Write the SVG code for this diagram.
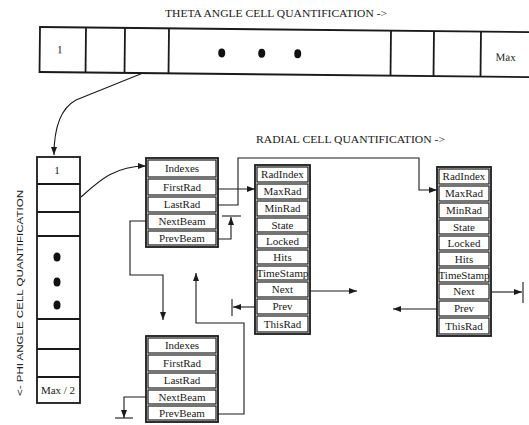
<svg xmlns="http://www.w3.org/2000/svg" width="529" height="425" viewBox="0 0 529 425">
<style>
.box{fill:#fff;stroke:#1a1a1a;stroke-width:1.8}
.cell{fill:#fff;stroke:#1a1a1a;stroke-width:1.2}
.t{font-family:"Liberation Serif","Times New Roman",serif;font-size:11px;fill:#1a1a1a;text-anchor:middle}
.title{font-family:"Liberation Serif","Times New Roman",serif;font-size:10px;fill:#1a1a1a}
.sans{font-family:"Liberation Sans",Arial,sans-serif;font-size:9.5px;fill:#1a1a1a}
.c{fill:none;stroke:#1a1a1a;stroke-width:1.1}
.dot{fill:#111}
</style>
<defs>
<marker id="ah" markerUnits="userSpaceOnUse" markerWidth="8" markerHeight="6" refX="8" refY="3" orient="auto">
<path d="M0,0 L8,3 L0,6 z" fill="#1a1a1a"/>
</marker>
</defs>

<text class="title" x="165" y="17" textLength="222" lengthAdjust="spacingAndGlyphs">THETA ANGLE CELL QUANTIFICATION -&gt;</text>
<text class="title" x="256" y="143" textLength="189" lengthAdjust="spacingAndGlyphs">RADIAL CELL QUANTIFICATION -&gt;</text>
<text class="sans" transform="translate(23,293) rotate(-90)" text-anchor="middle" textLength="206" lengthAdjust="spacingAndGlyphs">&lt;- PHI ANGLE CELL QUANTIFICATION</text>

<g id="theta-array" transform="rotate(0.6 40 27)">
<rect class="box" x="40" y="27" width="500" height="45"/>
<line class="box" x1="86" y1="27" x2="86" y2="72"/>
<line class="box" x1="125" y1="27" x2="125" y2="72"/>
<line class="box" x1="169" y1="27" x2="169" y2="72"/>
<line class="box" x1="391" y1="27" x2="391" y2="72"/>
<line class="box" x1="434" y1="27" x2="434" y2="72"/>
<line class="box" x1="481" y1="27" x2="481" y2="72"/>
<text class="t" x="60" y="53">1</text>
<ellipse class="dot" cx="222" cy="51" rx="3.5" ry="4.5"/>
<ellipse class="dot" cx="262" cy="51" rx="3.5" ry="4.5"/>
<ellipse class="dot" cx="298" cy="51" rx="3.5" ry="4.5"/>
<text class="t" x="506" y="56">Max</text>
</g>

<g id="phi-array">
<rect class="box" x="37" y="157" width="43" height="246"/>
<line class="box" x1="37" y1="184" x2="80" y2="184"/>
<line class="box" x1="37" y1="212" x2="80" y2="212"/>
<line class="box" x1="37" y1="236" x2="80" y2="236"/>
<line class="box" x1="37" y1="319" x2="80" y2="319"/>
<line class="box" x1="37" y1="349" x2="80" y2="349"/>
<line class="box" x1="37" y1="377" x2="80" y2="377"/>
<text class="t" x="57" y="174">1</text>
<ellipse class="dot" cx="57" cy="257" rx="3.5" ry="4.5"/>
<ellipse class="dot" cx="57" cy="282" rx="3.5" ry="4.5"/>
<ellipse class="dot" cx="57" cy="305" rx="3.5" ry="4.5"/>
<text class="t" x="58" y="394">Max / 2</text>
</g>

<g id="beam1">
<rect class="box" x="146" y="158" width="72" height="89"/>
<rect class="cell" x="148" y="160" width="68" height="17"/>
<rect class="cell" x="148" y="179" width="68" height="16"/>
<rect class="cell" x="148" y="197" width="68" height="15"/>
<rect class="cell" x="148" y="214" width="68" height="15"/>
<rect class="cell" x="148" y="231" width="68" height="14"/>
<text class="t" x="182" y="172">Indexes</text>
<text class="t" x="182" y="191">FirstRad</text>
<text class="t" x="182" y="208">LastRad</text>
<text class="t" x="182" y="225">NextBeam</text>
<text class="t" x="182" y="242">PrevBeam</text>
</g>

<g id="beam2">
<rect class="box" x="146" y="336" width="72" height="86"/>
<rect class="cell" x="148" y="338" width="68" height="15"/>
<rect class="cell" x="148" y="355" width="68" height="16"/>
<rect class="cell" x="148" y="373" width="68" height="15"/>
<rect class="cell" x="148" y="390" width="68" height="14"/>
<rect class="cell" x="148" y="406" width="68" height="14"/>
<text class="t" x="182" y="349">Indexes</text>
<text class="t" x="182" y="367">FirstRad</text>
<text class="t" x="182" y="384">LastRad</text>
<text class="t" x="182" y="401">NextBeam</text>
<text class="t" x="182" y="417">PrevBeam</text>
</g>

<g id="rad1">
<rect class="box" x="255" y="165" width="55" height="169"/>
<rect class="cell" x="257" y="167" width="51" height="15"/>
<rect class="cell" x="257" y="184" width="51" height="15"/>
<rect class="cell" x="257" y="201" width="51" height="15"/>
<rect class="cell" x="257" y="218" width="51" height="14"/>
<rect class="cell" x="257" y="234" width="51" height="14"/>
<rect class="cell" x="257" y="250" width="51" height="14"/>
<rect class="cell" x="257" y="266" width="51" height="14"/>
<rect class="cell" x="257" y="282" width="51" height="15"/>
<rect class="cell" x="257" y="299" width="51" height="15"/>
<rect class="cell" x="257" y="316" width="51" height="16"/>
<text class="t" x="282.5" y="178">RadIndex</text>
<text class="t" x="282.5" y="195">MaxRad</text>
<text class="t" x="282.5" y="212">MinRad</text>
<text class="t" x="282.5" y="229">State</text>
<text class="t" x="282.5" y="245">Locked</text>
<text class="t" x="282.5" y="261">Hits</text>
<text class="t" x="282.5" y="277" textLength="52" lengthAdjust="spacingAndGlyphs">TimeStamp</text>
<text class="t" x="282.5" y="293">Next</text>
<text class="t" x="282.5" y="310">Prev</text>
<text class="t" x="282.5" y="328">ThisRad</text>
</g>

<g id="rad2">
<rect class="box" x="437" y="167" width="54" height="169"/>
<rect class="cell" x="439" y="169" width="50" height="15"/>
<rect class="cell" x="439" y="186" width="50" height="15"/>
<rect class="cell" x="439" y="203" width="50" height="15"/>
<rect class="cell" x="439" y="220" width="50" height="14"/>
<rect class="cell" x="439" y="236" width="50" height="14"/>
<rect class="cell" x="439" y="252" width="50" height="14"/>
<rect class="cell" x="439" y="268" width="50" height="14"/>
<rect class="cell" x="439" y="284" width="50" height="15"/>
<rect class="cell" x="439" y="301" width="50" height="15"/>
<rect class="cell" x="439" y="318" width="50" height="16"/>
<text class="t" x="464" y="180">RadIndex</text>
<text class="t" x="464" y="197">MaxRad</text>
<text class="t" x="464" y="214">MinRad</text>
<text class="t" x="464" y="231">State</text>
<text class="t" x="464" y="247">Locked</text>
<text class="t" x="464" y="263">Hits</text>
<text class="t" x="464" y="279" textLength="51" lengthAdjust="spacingAndGlyphs">TimeStamp</text>
<text class="t" x="464" y="295">Next</text>
<text class="t" x="464" y="312">Prev</text>
<text class="t" x="464" y="330">ThisRad</text>
</g>

<g id="connectors">
<path class="c" d="M143,73 L76,100 Q54,112 54,155" marker-end="url(#ah)"/>
<path class="c" d="M81,197 C100,180 115,166 146,166" marker-end="url(#ah)"/>
<path class="c" d="M218,189 L255,189" marker-end="url(#ah)"/>
<path class="c" d="M218,205 L238,205 L238,158 L419,158 L419,190 L437,190" marker-end="url(#ah)"/>
<path class="c" d="M218,239 L231,239 L231,217" marker-end="url(#ah)"/>
<path class="c" d="M222,216 L241,216" stroke-width="1.6"/>
<path class="c" d="M146,221 L130,221 L130,275 L163,275 L163,320" marker-end="url(#ah)"/>
<path class="c" d="M146,397 L124,397 L124,418" marker-end="url(#ah)"/>
<path class="c" d="M115,418 L133,418" stroke-width="1.6"/>
<path class="c" d="M218,414 L244,414 L244,323 L196,323 L196,273" marker-end="url(#ah)"/>
<path class="c" d="M310,291 L357,291" marker-end="url(#ah)"/>
<path class="c" d="M255,307 L233,307" marker-end="url(#ah)"/>
<path class="c" d="M232,299 L232,316" stroke-width="1.6"/>
<path class="c" d="M437,309 L393,309" marker-end="url(#ah)"/>
<path class="c" d="M491,292 L522,292" marker-end="url(#ah)"/>
<path class="c" d="M523,282 L523,303" stroke-width="1.6"/>
</g>
</svg>
